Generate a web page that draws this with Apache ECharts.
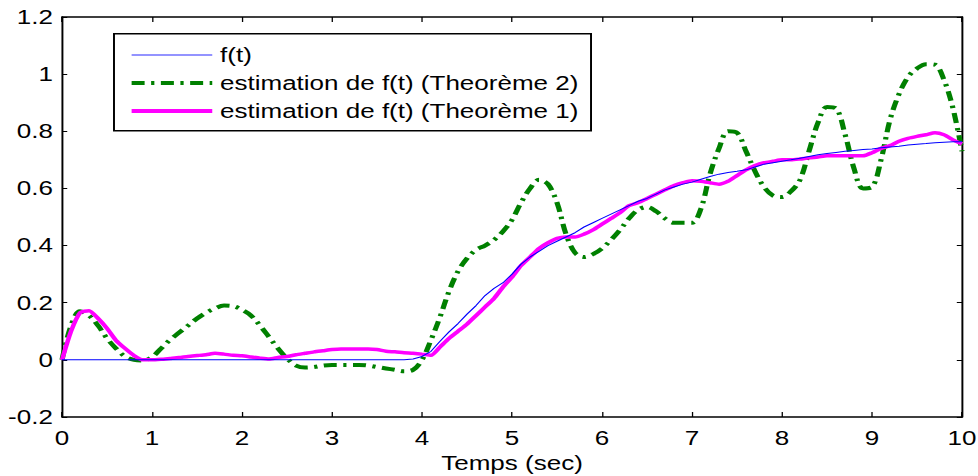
<!DOCTYPE html>
<html>
<head>
<meta charset="utf-8">
<script src="https://cdn.jsdelivr.net/npm/echarts@6/dist/echarts.min.js"></script>
<style>
html,body{margin:0;padding:0;background:#fff;overflow:hidden;}
#wrap{width:978px;height:476px;overflow:hidden;}
#chart{width:752px;height:476px;transform:scaleX(1.30053);transform-origin:0 0;}
</style>
</head>
<body>
<div id="wrap"><div id="chart"></div></div>
<script>
// time step of the samples (sec)
var tStep = 0.1;
var xTicks = [0,1,2,3,4,5,6,7,8,9,10];
var yTicks = [-0.2,0,0.2,0.4,0.6,0.8,1,1.2];
var seriesNames = ['f(t)', 'estimation de f(t) (Theorème 2)', 'estimation de f(t) (Theorème 1)'];
var xLabel = 'Temps (sec)';

var fReal = [
0,0,0,0,0,0,0,0,0,0,
0,0,0,0,0,0,0,0,0,0,
0,0,0,0,0,0,0,0,0,0,
0,0,0,0,0,0,0,0,0,0.003,
0.012,0.03,0.065,0.098,0.127,0.16,0.19,0.225,0.25,0.27,
0.30,0.335,0.36,0.38,0.40,0.415,0.43,0.445,0.465,0.48,
0.495,0.51,0.525,0.54,0.555,0.565,0.58,0.595,0.605,0.615,
0.622,0.632,0.642,0.65,0.656,0.66,0.665,0.675,0.685,0.69,
0.695,0.70,0.706,0.712,0.718,0.722,0.726,0.73,0.733,0.736,
0.738,0.742,0.745,0.748,0.752,0.755,0.757,0.76,0.762,0.763,
0.763];

var estT2 = [
0,0.12,0.17,0.155,0.12,0.075,0.04,0.012,0.0,-0.002,
0.01,0.04,0.07,0.095,0.12,0.145,0.165,0.18,0.19,0.188,
0.175,0.155,0.12,0.08,0.04,0.005,-0.02,-0.027,-0.025,-0.02,
-0.018,-0.018,-0.018,-0.018,-0.02,-0.025,-0.03,-0.035,-0.04,-0.035,
0.0,0.07,0.15,0.24,0.31,0.355,0.385,0.40,0.42,0.45,
0.49,0.55,0.60,0.63,0.615,0.55,0.44,0.375,0.36,0.37,
0.39,0.42,0.455,0.495,0.525,0.535,0.52,0.495,0.48,0.48,
0.48,0.53,0.65,0.74,0.80,0.795,0.73,0.66,0.605,0.575,
0.57,0.59,0.63,0.73,0.83,0.885,0.88,0.79,0.67,0.60,
0.605,0.70,0.84,0.93,0.99,1.02,1.035,1.033,0.98,0.88,
0.73];

var estT1 = [
0,0.1,0.165,0.172,0.145,0.11,0.068,0.04,0.015,0.0,
0.0,0.002,0.005,0.008,0.012,0.015,0.018,0.023,0.02,0.016,
0.014,0.01,0.006,0.003,0.008,0.012,0.018,0.023,0.028,0.032,
0.036,0.038,0.038,0.038,0.038,0.036,0.03,0.028,0.025,0.023,
0.02,0.016,0.045,0.075,0.1,0.125,0.155,0.185,0.215,0.255,
0.29,0.33,0.36,0.39,0.41,0.425,0.43,0.43,0.44,0.455,
0.475,0.495,0.515,0.54,0.55,0.565,0.58,0.595,0.61,0.62,
0.627,0.625,0.62,0.615,0.625,0.645,0.665,0.68,0.69,0.695,
0.70,0.70,0.703,0.707,0.71,0.714,0.714,0.714,0.714,0.714,
0.725,0.74,0.75,0.765,0.775,0.782,0.788,0.795,0.788,0.77,
0.756];

function pairs(arr){
  return arr.map(function(v,i){ return [+(i*tStep).toFixed(2), v]; });
}

var FONT = '"Liberation Sans", Arial, sans-serif';
var chart = echarts.init(document.getElementById('chart'), null, {renderer:'svg', width:752, height:476});

var axisLineStyle = {color:'#000', width:1.5};
var tickStyle = {color:'#000', width:1};
var fmtY = function(v){ return String(+v.toFixed(1)); };
var hiddenSymbol = {color:'rgba(0,0,0,0)', borderColor:'rgba(0,0,0,0)', borderWidth:0, opacity:0};

var option = {
  animation:false,
  backgroundColor:'#fff',
  grid:{left:47.7, right:12.3, top:17, bottom:59, containLabel:false, outerBoundsMode:'none'},
  xAxis:[{
    type:'value', min:xTicks[0], max:xTicks[xTicks.length-1], interval:1, position:'bottom',
    name:xLabel, nameLocation:'middle', nameGap:36,
    nameTextStyle:{fontFamily:FONT, fontSize:20, color:'#000'},
    axisLine:{show:true, onZero:false, lineStyle:axisLineStyle},
    axisTick:{show:true, inside:true, length:5, lineStyle:tickStyle},
    axisLabel:{fontFamily:FONT, fontSize:20, color:'#000', margin:11},
    splitLine:{show:false}
  },{
    type:'value', min:xTicks[0], max:xTicks[xTicks.length-1], interval:1, position:'top',
    axisLine:{show:true, onZero:false, lineStyle:axisLineStyle},
    axisTick:{show:true, inside:true, length:5, lineStyle:tickStyle},
    axisLabel:{show:false}, splitLine:{show:false}
  }],
  yAxis:[{
    type:'value', min:yTicks[0], max:yTicks[yTicks.length-1], interval:0.2, position:'left',
    axisLine:{show:true, onZero:false, lineStyle:axisLineStyle},
    axisTick:{show:true, inside:true, length:4, lineStyle:tickStyle},
    axisLabel:{fontFamily:FONT, fontSize:20, color:'#000', margin:7, formatter:fmtY},
    splitLine:{show:false}
  },{
    type:'value', min:yTicks[0], max:yTicks[yTicks.length-1], interval:0.2, position:'right',
    axisLine:{show:true, onZero:false, lineStyle:axisLineStyle},
    axisTick:{show:true, inside:true, length:4, lineStyle:tickStyle},
    axisLabel:{show:false}, splitLine:{show:false}
  }],
  legend:{
    orient:'vertical', left:99.2, top:45, itemWidth:62, itemHeight:20, itemGap:8,
    padding:0,
    itemStyle:hiddenSymbol,
    data:[
      {name:seriesNames[0], itemStyle:hiddenSymbol, lineStyle:{width:1.5, color:'#6f6fff'}},
      {name:seriesNames[1], itemStyle:hiddenSymbol, lineStyle:{width:4}},
      {name:seriesNames[2], itemStyle:hiddenSymbol, lineStyle:{width:4}}
    ],
    textStyle:{fontFamily:FONT, fontSize:20, color:'#000', lineHeight:20, padding:[0,0,0,1]},
    selectedMode:false
  },
  graphic:[{
    type:'rect', left:86.9, top:33, z:-1, silent:true,
    shape:{width:366.8, height:97},
    style:{fill:'#fff', stroke:'#000', lineWidth:1.5}
  }],
  series:[{
    name:seriesNames[0], type:'line', data:pairs(fReal), showSymbol:false, symbol:'none',
    lineStyle:{color:'#0000ff', width:1}, itemStyle:{color:'#0000ff'}, z:4
  },{
    name:seriesNames[1], type:'line', data:pairs(estT2), showSymbol:false, symbol:'none', smooth:0.35,
    lineStyle:{color:'#008000', width:4, type:[10,5,2.5,5]}, itemStyle:{color:'#008000'}, z:2
  },{
    name:seriesNames[2], type:'line', data:pairs(estT1), showSymbol:false, symbol:'none', smooth:0.2,
    lineStyle:{color:'#ff00ff', width:3.5}, itemStyle:{color:'#ff00ff'}, z:3
  }]
};
chart.setOption(option);
</script>
</body>
</html>
